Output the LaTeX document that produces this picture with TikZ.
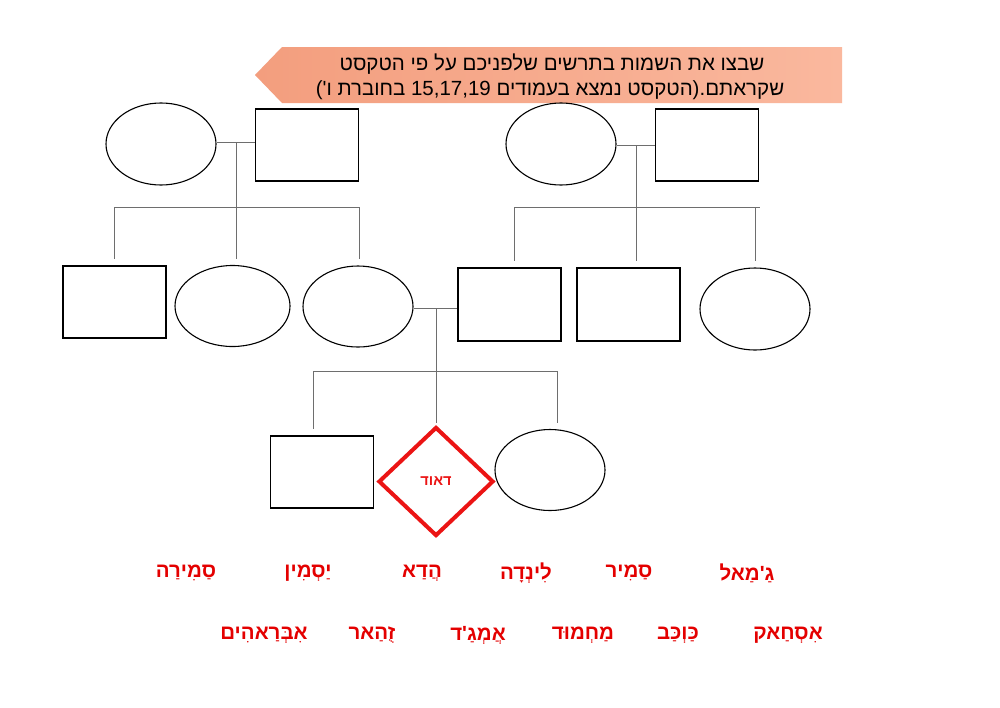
\documentclass[tikz,border=0pt]{standalone}
\usepackage{fontspec}
\setmainfont{Liberation Sans}
\newfontfamily\hebfont[Script=Hebrew]{Liberation Sans}
\TeXXeTstate=1
\usetikzlibrary{shapes.geometric}
\definecolor{wordred}{RGB}{228,0,0}
\definecolor{dred}{RGB}{235,20,20}
\definecolor{linkgray}{RGB}{110,110,110}
\definecolor{salmonL}{RGB}{243,158,126}
\definecolor{salmonR}{RGB}{250,184,158}
\begin{document}
\begin{tikzpicture}[x=1pt,y=-1pt,
  male/.style={draw=black,line width=1.1pt,rectangle,inner sep=0pt,minimum width=103pt,minimum height=72pt},
  fem/.style={draw=black,line width=1.1pt,ellipse,inner sep=0pt,minimum width=110pt,minimum height=82pt},
  link/.style={draw=linkgray,line width=0.9pt},
  drop/.style={link,shorten >=6pt},
  word/.style={font=\hebfont\bfseries\fontsize{20.5}{24}\selectfont,text=wordred,inner sep=0pt},
  title/.style={font=\hebfont\fontsize{20.5}{25}\selectfont,text=black,inner sep=0pt},
  pdiamond/.style={draw=dred,line width=4pt,diamond,inner sep=0pt,minimum width=115pt,minimum height=109pt,
     font=\hebfont\bfseries\fontsize{14.5}{16}\selectfont,text=dred}]
\useasboundingbox (0,0) rectangle (1000,707);
\fill[white] (0,0) rectangle (1000,707);

% banner
\shade[left color=salmonL,right color=salmonR] (255,75) -- (282,47) -- (842,47) -- (842,103) -- (282,103) -- cycle;
\node[title] (t1) at (552,64) {\beginR שבצו את השמות בתרשים שלפניכם על פי הטקסט\endR};
\node[title] (t2) at (550,90) {\beginR שקראתם.(הטקסט נמצא בעמודים \beginL 15,17,19\endL{} בחוברת ו')\endR};

% generation 1
\node[fem]  (g1f) at (161,144) {};
\node[male] (g1m) at (307,145) {};
\node[fem]  (g2f) at (561,144) {};
\node[male] (g2m) at (707,145) {};

% generation 2
\node[male] (a1) at (114.5,302) {};
\node[fem, minimum width=115pt,minimum height=81pt] (a2) at (232.5,306) {};
\node[fem, minimum height=81pt] (a3) at (358,306.5) {};
\node[male,minimum height=73pt] (b1) at (509.5,304.5) {};
\node[male,minimum height=73pt] (b2) at (628.5,304.5) {};
\node[fem] (b3) at (755,309) {};

% generation 3
\node[male] (c1) at (322,472) {};
\node[pdiamond] (c2) at (436,481.5) {\beginR דאוד\endR};
\node[fem, minimum height=81pt] (c3) at (550,470) {};

% family 1 links
\coordinate (j1) at (236,142);
\coordinate (s1) at (236,207);
\coordinate (s1a) at (114,207);
\coordinate (s1c) at (359,207);
\draw[link] (g1f.east |- j1) -- (g1m.west |- j1);
\draw[link] (j1) -- (s1);
\draw[link] (s1a) -- (s1c);
\draw[drop] (s1a) -- (s1a |- a1.north);
\draw[drop] (s1) -- (s1 |- a2.north);
\draw[drop] (s1c) -- (s1c |- a3.north);

% family 2 links
\coordinate (j2) at (636,145);
\coordinate (s2) at (636,207);
\coordinate (s2a) at (514,207);
\coordinate (s2c) at (760,207);
\coordinate (s2d) at (755,207);
\draw[link] (g2f.east |- j2) -- (g2m.west |- j2);
\draw[link] (j2) -- (s2);
\draw[link] (s2a) -- (s2c);
\draw[drop] (s2a) -- (s2a |- b1.north);
\draw[drop] (s2) -- (s2 |- b2.north);
\draw[drop] (s2d) -- (s2d |- b3.north);

% family 3 links
\coordinate (j3) at (436,308);
\coordinate (s3) at (436,371);
\coordinate (s3a) at (313,371);
\coordinate (s3c) at (557,371);
\draw[link] (a3.east |- j3) -- (b1.west |- j3);
\draw[link] (j3) -- (s3);
\draw[link] (s3a) -- (s3c);
\draw[drop] (s3a) -- (s3a |- c1.north);
\draw[link,shorten >=2pt] (s3) -- (c2.north);
\draw[drop] (s3c) -- (s3c |- c3.north);

% names row 1
\node[word] (w1) at (747,573) {\beginR גַ'מַאל\endR};
\node[word] (w2) at (629,573) {\beginR סַמִיר\endR};
\node[word] (w3) at (526,573) {\beginR לִינְדָה\endR};
\node[word] (w4) at (422,573) {\beginR הֲדַא\endR};
\node[word] (w5) at (308,573) {\beginR יַסְמִין\endR};
\node[word] (w6) at (186,573) {\beginR סַמִירַה\endR};
% names row 2
\node[word] (v1) at (788,635) {\beginR אִסְחַאק\endR};
\node[word] (v2) at (678,635) {\beginR כַּוְכַּב\endR};
\node[word] (v3) at (583,635) {\beginR מַחְמוּד\endR};
\node[word] (v4) at (478,635) {\beginR אֲמְגַ'ד\endR};
\node[word] (v5) at (372,635) {\beginR זֻהַאר\endR};
\node[word] (v6) at (264,635) {\beginR אִבְּרַאהִים\endR};
\end{tikzpicture}
\end{document}
